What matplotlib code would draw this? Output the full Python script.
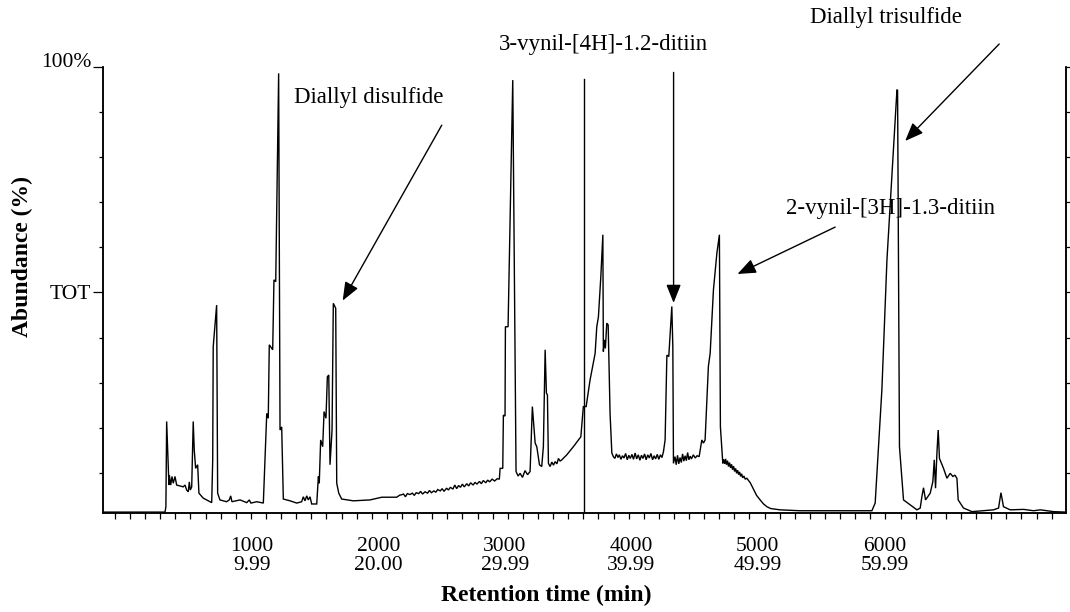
import matplotlib
matplotlib.use('Agg')
import matplotlib.pyplot as plt
from matplotlib.ticker import FixedLocator

plt.rcParams['font.family'] = ['Liberation Serif', 'DejaVu Serif']

# ---------------- data (scan number vs abundance %) ----------------
scan_1 = [-175, 315, 322, 328, 346, 349, 360, 370, 380, 394, 407, 433, 459, 473, 486, 499, 507, 515,
          526, 538, 546, 557, 573, 583, 617, 657, 684, 692, 696, 723, 731, 749, 802, 823, 834, 844,
          908, 961, 981, 994, 1040, 1092, 1105, 1119, 1131, 1139, 1166, 1176, 1190, 1213, 1224, 1237,
          1250, 1303, 1356, 1395, 1408, 1421, 1435, 1447, 1461, 1474, 1514]
abund_1 = [1.3, 1.3, 2.5, 21.4, 7.3, 9.5, 7.3, 9.2, 7.7, 9.2, 7.3, 7.1, 6.9, 7.3, 6.2, 5.8, 8.0, 6.2,
           6.9, 21.4, 15.1, 11.0, 11.8, 5.5, 4.4, 3.8, 3.4, 12.9, 38.0, 47.2, 5.5, 4.0, 3.6, 4.0, 4.9, 3.6,
           4.0, 3.4, 4.0, 3.3, 3.6, 3.3, 12.9, 23.2, 22.1, 38.4, 37.3, 52.8, 52.4, 98.6, 19.5, 20.2,
           4.2, 3.8, 3.3, 3.6, 4.7, 3.8, 4.9, 4.0, 4.7, 3.1, 3.1]

scan_2 = [1527, 1534, 1545, 1561, 1572, 1587, 1598, 1609, 1619, 1635, 1645, 1664, 1672, 1688, 1711,
          1803, 1935, 2028, 2146, 2172]
abund_2 = [9.2, 7.7, 17.3, 15.8, 23.6, 22.1, 31.3, 31.7, 11.8, 19.5, 47.6, 46.5, 7.7, 5.5, 4.2,
           3.8, 4.0, 4.6, 4.6, 5.1]

scan_3 = [2180, 2200, 2215, 2230, 2250, 2270, 2285, 2300, 2320, 2335, 2350, 2370, 2390, 2405, 2420,
          2440, 2455, 2470, 2490, 2505, 2520, 2540, 2555, 2570, 2590, 2605, 2620, 2635, 2650, 2665,
          2680, 2700, 2715, 2730, 2750, 2765, 2780, 2800, 2815, 2830, 2850, 2865, 2880, 2900, 2920,
          2940, 2957]
abund_3 = [5.1, 5.3, 4.7, 5.4, 5.2, 5.5, 5.0, 5.6, 5.4, 5.9, 5.3, 5.8, 5.5, 6.1, 5.6,
           6.0, 5.7, 6.3, 6.0, 6.5, 5.9, 6.6, 6.2, 6.8, 6.4, 7.3, 6.5, 7.2, 6.8, 7.5,
           6.9, 7.6, 7.1, 7.8, 7.3, 7.9, 7.5, 8.1, 7.6, 8.3, 7.8, 8.4, 8.0, 8.6, 8.2,
           8.7, 8.6]

scan_4 = [2963, 2984, 2989, 3002, 3005, 3026, 3063, 3089, 3105, 3121, 3140, 3160, 3180, 3200, 3218,
          3240, 3253, 3274, 3292, 3305, 3319, 3329, 3337, 3345, 3358, 3372, 3385, 3398, 3412, 3424,
          3437, 3451, 3490, 3542, 3582, 3601, 3621, 3643, 3674, 3714, 3727, 3740, 3759, 3775, 3779,
          3787, 3795, 3806, 3817, 3832, 3846]
abund_4 = [11.0, 11.0, 22.8, 22.6, 42.4, 42.4, 97.1, 10.3, 9.3, 9.9, 9.0, 10.5, 9.6, 10.3, 24.7,
           16.6, 15.8, 11.8, 11.4, 15.8, 37.3, 27.7, 27.3, 12.1, 11.4, 12.4, 11.7, 12.5, 12.0, 13.2,
           12.6, 12.9, 14.0, 15.8, 17.3, 18.0, 24.7, 24.7, 30.6, 36.5, 42.4, 44.6, 53.5, 62.8, 36.9,
           39.5, 37.6, 43.2, 42.8, 23.2, 14.4]

scan_5 = [3858, 3870, 3882, 3895, 3905, 3918, 3930, 3942, 3955, 3968, 3980, 3992, 4005, 4017, 4030,
          4042, 4055, 4068, 4080, 4092, 4105, 4117, 4130, 4142, 4155, 4168, 4180, 4192, 4205, 4217,
          4230, 4242, 4254, 4267, 4281, 4296, 4320, 4328, 4333]
abund_5 = [13.6, 13.2, 14.2, 13.4, 14.0, 13.0, 13.8, 13.3, 14.3, 12.9, 13.9, 13.2, 14.1, 13.0, 14.4,
           13.1, 14.0, 12.8, 13.9, 13.2, 14.2, 12.9, 14.0, 13.3, 14.3, 12.9, 13.8, 13.1, 14.1, 13.0,
           14.0, 13.4, 14.7, 17.3, 36.1, 35.8, 46.9, 38.0, 12.1]

scan_6 = [4345, 4355, 4365, 4375, 4385, 4395, 4405, 4415, 4425, 4435, 4445, 4455, 4465, 4475, 4490,
          4505, 4520, 4536, 4557, 4570, 4583, 4609, 4623, 4649, 4676, 4696, 4704, 4715, 4723]
abund_6 = [13.6, 11.8, 13.9, 12.0, 13.4, 12.3, 14.2, 12.6, 13.8, 12.7, 14.5, 12.9, 13.7, 13.1, 14.0,
           13.3, 13.8, 13.6, 17.3, 16.6, 17.3, 33.6, 36.5, 50.6, 58.7, 62.8, 20.2, 15.5, 12.1]

scan_7 = [4730, 4738, 4745, 4752, 4760, 4768, 4776, 4784, 4792, 4800, 4808, 4816, 4824, 4832, 4840,
          4848, 4856, 4864, 4872, 4880, 4890, 4900, 4913, 4940, 4965, 4990, 5018, 5045, 5071, 5100,
          5123, 5176, 5334, 5650, 5901]
abund_7 = [13.0, 12.0, 13.1, 11.8, 12.7, 11.4, 12.3, 11.1, 11.9, 10.7, 11.5, 10.3, 11.0, 9.9, 10.6,
           9.6, 10.2, 9.2, 9.8, 8.9, 9.3, 8.6, 8.8, 7.8, 6.4, 5.0, 4.0, 3.1, 2.5, 2.1,
           2.0, 1.8, 1.6, 1.6, 1.6]

scan_8 = [5927, 5980, 6020, 6059, 6099, 6104, 6119, 6151, 6257, 6283, 6296, 6309, 6325, 6362, 6383,
          6394, 6404, 6415, 6425, 6435, 6467, 6494, 6520, 6541, 6557, 6573, 6583, 6625, 6692, 6862,
          6902, 6921, 6941, 6994, 7100, 7179, 7232, 7337, 7435]
abund_8 = [3.3, 28.4, 57.2, 75.7, 94.9, 94.9, 15.8, 4.0, 1.8, 2.2, 4.7, 6.7, 4.0, 5.5, 8.1,
           12.9, 6.6, 14.4, 19.5, 13.2, 11.0, 8.8, 9.9, 9.2, 9.5, 8.8, 4.0, 2.2, 1.4, 1.8,
           2.2, 5.6, 2.5, 1.8, 1.9, 1.6, 1.8, 1.4, 1.3]

x_major = [1000, 2000, 3000, 4000, 5000, 6000]
x_labels = ['1000\n9.99', '2000\n20.00', '3000\n29.99', '4000\n39.99', '5000\n49.99', '6000\n59.99']
x_minor_start, x_minor_step, x_minor_count = -81, 119.4, 63
y_major = [50, 100]
y_labels = ['TOT', '100%']

marker_scan = 3623
annotations = [
    # text, text position (scan, %), arrow start (scan, %), arrow tip (scan, %)
    ('Diallyl disulfide', (1927, 93.3), (2502, 87.1), (1719, 48.2)),
    ('3-vynil-[4H]-1.2-ditiin', (3780, 104.9), (4334, 98.8), (4334, 47.7)),
    ('2-vynil-[3H]-1.3-ditiin', (6045, 68.7), (5611, 64.5), (4839, 54.1)),
    ('Diallyl trisulfide', (6010, 110.9), (6907, 105.1), (6164, 83.6)),
]

# ---------------- figure ----------------
W, H = 1070, 612
fig = plt.figure(figsize=(W / 100, H / 100), dpi=100)
ax = fig.add_axes([103 / W, 1 - 513 / H, (1066 - 103) / W, (513 - 67) / H])

scan = scan_1 + scan_2 + scan_3 + scan_4 + scan_5 + scan_6 + scan_7 + scan_8
abund = abund_1 + abund_2 + abund_3 + abund_4 + abund_5 + abund_6 + abund_7 + abund_8
ax.plot(scan, abund, color='black', lw=1.0, solid_joinstyle='miter')

ax.set_xlim(-175, 7435)
ax.set_ylim(1.1, 100)

ax.axvline(marker_scan, ymin=0, ymax=(97.3 - 1.1) / (100 - 1.1), color='black', lw=1.0)

for txt, tpos, start, tip in annotations:
    ax.text(tpos[0], tpos[1], txt, ha='center', va='center', fontsize=16.5, clip_on=False)
    ax.annotate('', xy=tip, xytext=start,
                arrowprops=dict(arrowstyle='-|>,head_length=0.8,head_width=0.32', lw=1.0,
                                color='black', shrinkA=0, shrinkB=0, mutation_scale=14),
                annotation_clip=False)

# spines
ax.spines['top'].set_visible(False)
for s in ['left', 'right', 'bottom']:
    ax.spines[s].set_linewidth(1.1)

# x ticks: labels without marks, evenly spaced short marks
ax.set_xticks(x_major)
ax.set_xticklabels(x_labels, fontsize=15.5, linespacing=1.0)
ax.xaxis.set_minor_locator(FixedLocator(
    [x_minor_start + x_minor_step * k for k in range(x_minor_count)]))
ax.tick_params(axis='x', which='major', length=0, pad=17)
ax.tick_params(axis='x', which='minor', direction='out', length=4, width=0.9)

# y ticks left
ax.set_yticks(y_major)
ax.set_yticklabels(y_labels, fontsize=15.5)
labs = ax.get_yticklabels()
labs[0].set_verticalalignment('center_baseline')
labs[1].set_verticalalignment('baseline')
ax.yaxis.set_minor_locator(FixedLocator([10, 20, 30, 40, 60, 70, 80, 90]))
ax.tick_params(axis='y', which='major', direction='out', length=7.5, width=0.9, pad=1)
ax.tick_params(axis='y', which='minor', direction='out', length=3, width=0.9)

# right side short ticks
ax2 = ax.twinx()
ax2.set_ylim(ax.get_ylim())
ax2.set_yticks([10, 20, 30, 40, 50, 60, 70, 80, 90, 100])
ax2.set_yticklabels([])
ax2.tick_params(axis='y', direction='out', length=3, width=0.9)
ax2.spines['top'].set_visible(False)
for s in ['left', 'right', 'bottom']:
    ax2.spines[s].set_linewidth(1.1)

fig.text(22 / W, 1 - 256 / H, 'Abundance (%)', rotation=90, ha='center', va='center',
         fontsize=17, fontweight='bold')
fig.text(546 / W, 1 - 595 / H, 'Retention time (min)', ha='center', va='center',
         fontsize=17, fontweight='bold')

fig.savefig('out.png', dpi=100)
